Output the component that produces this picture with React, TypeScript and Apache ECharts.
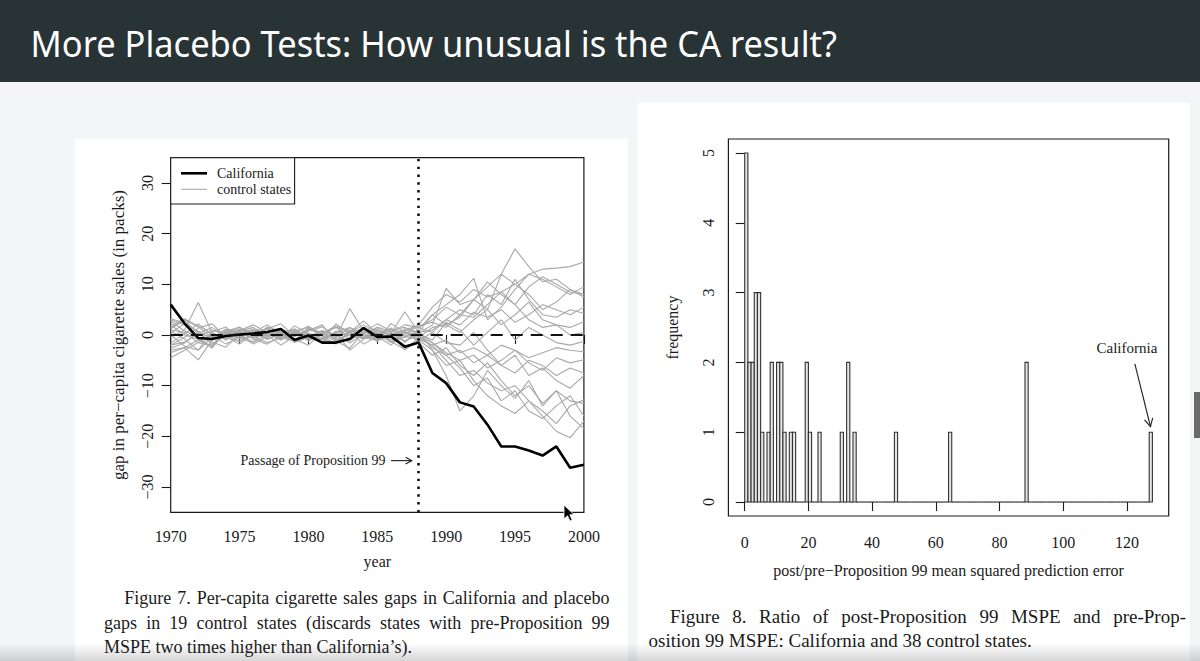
import React, { useEffect, useRef } from 'react';
import * as echarts from 'echarts';

// ---------------- DATA ----------------
const years = [1970, 1971, 1972, 1973, 1974, 1975, 1976, 1977, 1978, 1979, 1980, 1981, 1982, 1983, 1984, 1985,
  1986, 1987, 1988, 1989, 1990, 1991, 1992, 1993, 1994, 1995, 1996, 1997, 1998, 1999, 2000];

const california = [6.0, 2.3, -0.6, -0.8, -0.2, 0.1, 0.3, 0.6, 1.2, -1.0, -0.1, -1.5, -1.5, -0.8, 1.4, -0.4,
  -0.3, -2.3, -1.5, -7.5, -9.5, -13.3, -14.1, -17.7, -22.0, -22.0, -22.8, -23.8, -22.0, -26.2, -25.6];

const ctrl01 = [3.2, 2.4, 0.5, -1.8, 0.4, 1.6, -0.8, 1.2, 2.2, -0.3, 0.9, 2.0, -1.2, 0.5, 2.8, 0.3, -1.5, 1.2, 1.5, 3.0, 5.5, 4.0, 7.0, 9.5, 12.0, 17.0, 13.5, 10.5, 11.0, 9.0, 8.0];
const ctrl02 = [1.5, 3.0, 1.6, -0.5, 0.2, -1.4, 0.5, 2.0, 0.3, -1.0, 1.4, 0.2, 1.6, -0.9, 0.6, 2.2, 0.8, 0.2, 1.8, 2.5, 1.5, 4.0, 3.5, 6.0, 8.5, 10.0, 12.0, 13.0, 13.2, 13.5, 14.4];
const ctrl03 = [-0.5, 1.0, 6.4, 0.5, -1.0, 0.8, 1.5, -0.2, 0.5, 1.0, -0.8, 0.4, 1.8, 0.6, -0.5, 0.2, 1.0, 1.5, 0.5, 4.0, 6.0, 8.0, 11.2, 3.0, 5.5, 9.0, 12.0, 11.0, 9.5, 8.0, 9.5];
const ctrl04 = [3.0, 2.0, 0.8, -0.8, 1.2, 0.5, -0.5, 0.3, -1.0, 0.8, 1.5, 0.2, -0.6, 5.2, 0.8, -0.5, 1.2, 0.5, 0.3, 2.0, 9.2, 6.0, 7.0, 5.0, 12.0, 10.0, 8.0, 5.0, 6.5, 9.0, 7.5];
const ctrl05 = [1.0, 0.5, -1.5, -2.0, 0.0, 1.0, 0.5, -0.8, 0.2, 1.2, -0.5, -1.0, 0.5, 1.0, -0.2, -1.2, 0.4, 4.6, 0.5, 1.0, 3.0, 5.0, 4.0, 8.0, 6.0, 11.0, 7.0, 4.0, 3.5, 5.0, 4.3];
const ctrl06 = [-2.0, -0.5, 1.4, 2.2, -0.3, -1.8, 0.2, 1.4, -0.9, 0.3, 1.8, -0.2, -1.8, 0.5, 2.0, 0.5, -1.0, 0.0, -0.5, 1.5, 2.0, 0.5, 3.0, 5.0, 2.0, 4.0, 6.5, 3.0, 2.0, 1.5, 2.6];
const ctrl07 = [-2.6, -1.6, 0.5, -1.4, -2.4, 0.2, 1.2, -0.9, 0.4, -0.8, -2.0, 0.6, 0.2, -1.6, 0.3, 1.5, -0.2, -1.2, 0.2, -1.0, 2.5, 1.0, -2.0, 0.5, 3.0, -1.0, 1.5, 0.0, -1.5, -2.0, -1.3];
const ctrl08 = [-4.5, -3.0, -1.5, 0.3, -0.5, -1.2, 0.0, 0.5, -0.3, -1.0, 0.2, -0.5, 0.3, -3.0, -0.8, 0.0, 0.5, -1.2, 0.0, -2.5, -4.0, -3.0, -5.5, -4.0, -6.0, -7.5, -5.0, -6.0, -8.0, -6.5, -7.5];
const ctrl09 = [-3.5, -2.5, -4.9, -1.0, 0.5, -0.5, -1.5, 0.2, -0.8, 0.5, -0.3, -1.5, 0.8, -0.2, -0.6, -1.0, 0.5, -3.0, -0.5, -2.0, -5.0, -8.0, -7.0, -9.5, -11.0, -10.0, -13.0, -15.0, -17.5, -14.0, -12.8];
const ctrl10 = [0.5, 2.2, -0.5, -2.6, 0.9, 0.0, -1.4, 1.6, 0.4, -1.2, 0.8, 1.6, -0.4, 1.4, 0.0, -1.0, 2.3, 0.5, -1.0, -3.0, -6.0, -5.0, -9.0, -12.0, -14.0, -15.5, -13.0, -16.0, -19.0, -20.3, -17.0];
const ctrl11 = [2.0, 0.0, -0.8, -2.5, 0.8, 1.5, 0.2, -0.5, 1.0, 0.5, -1.0, 0.2, 1.5, 0.8, 0.3, -0.8, 0.2, 1.0, 0.5, -1.5, -4.0, -6.5, -10.0, -8.5, -13.0, -11.0, -15.0, -16.5, -14.0, -12.0, -16.0];
const ctrl12 = [1.2, 3.0, 0.2, -0.3, -0.8, 0.5, 1.0, 0.3, -0.4, 0.8, 0.0, -0.8, 0.6, 1.5, 0.5, 0.2, -0.2, 0.8, 2.0, 5.5, 8.0, 6.5, 9.0, 7.5, 8.5, 6.0, 9.5, 11.5, 10.0, 8.5, 8.0];
const ctrl13 = [-1.6, 0.2, 2.2, 0.0, -1.8, -0.5, 0.8, 0.0, -2.0, -0.2, 1.2, 0.0, -1.2, -2.6, 0.5, 1.2, -1.5, -0.3, -0.8, -2.0, -1.0, -3.5, -2.5, -4.0, -2.0, -3.0, -4.5, -3.5, -2.5, -3.0, -3.3];
const ctrl14 = [0.0, -2.2, -3.0, -0.5, 0.9, -0.2, -1.8, -0.3, 1.0, -1.5, -0.5, 0.9, -0.2, 0.6, -1.8, -0.3, -2.0, 0.6, -0.3, -1.5, -3.5, -5.0, -4.0, -6.5, -5.0, -3.0, -5.5, -7.0, -4.5, -5.5, -4.9];
const ctrl15 = [2.8, 0.8, -0.2, 1.0, 0.0, -0.6, 0.6, -0.2, 0.8, 0.2, -0.3, 0.8, 0.0, 0.5, -0.5, 1.0, 0.0, -0.5, 0.8, -3.0, -8.0, -15.0, -12.0, -7.0, -10.0, -12.5, -9.0, -14.0, -11.0, -13.0, -13.5];
const ctrl16 = [-2.0, -1.4, 0.3, 1.5, -0.2, 0.8, -0.8, -1.8, -0.2, 1.2, -1.2, 0.4, -0.9, 0.0, 1.5, -1.2, 0.0, 0.8, -1.5, -4.0, -2.5, -6.0, -8.0, -5.5, -9.0, -12.0, -10.0, -13.5, -11.0, -16.0, -18.5];
const ctrl17 = [1.8, 3.2, 1.8, 0.3, -0.6, 0.9, 2.0, 0.5, -0.5, 1.8, 0.2, -0.9, 2.2, 0.2, -0.8, 1.6, 0.6, 2.0, 1.5, 0.5, 3.0, 2.0, 4.5, 3.5, 5.0, 2.5, 4.0, 6.0, 5.0, 4.0, 5.5];
const ctrl18 = [-3.0, -2.5, -1.0, -2.2, 0.3, 1.2, -0.2, -1.5, -0.6, -1.2, 0.4, -0.9, -1.6, 0.6, -0.8, 0.9, -1.3, -2.8, -1.2, 0.5, -1.5, -2.0, 0.5, -3.0, -6.0, -4.0, -8.0, -6.5, -9.0, -10.5, -8.0];
const ctrl19 = [0.8, -0.8, -3.0, 0.6, 1.6, -0.8, -0.2, 1.2, 0.2, -1.3, 1.4, 0.5, -0.6, -1.2, 1.2, 0.2, 1.4, -1.5, 1.2, 4.0, 2.0, 3.5, 7.0, 10.5, 8.0, 6.0, 3.0, 1.5, 2.0, 0.0, 0.5];

const controls = [ctrl01, ctrl02, ctrl03, ctrl04, ctrl05, ctrl06, ctrl07, ctrl08, ctrl09, ctrl10,
  ctrl11, ctrl12, ctrl13, ctrl14, ctrl15, ctrl16, ctrl17, ctrl18, ctrl19];

const gapTicks = [-30, -20, -10, 0, 10, 20, 30];
const treatmentYear = 1988;

// histogram: bins of width 1 starting at histBinStart, counts in histCount (other bins 0)
const histBinStart = [0, 1, 2, 3, 4, 5, 7, 8, 10, 11, 12, 14, 15, 19, 20, 23, 30, 32, 34, 47, 64, 88, 127];
const histCount = [5, 2, 2, 3, 3, 1, 1, 2, 2, 2, 1, 1, 1, 2, 1, 1, 1, 2, 1, 1, 1, 2, 1];
const histMaxBin = 128;
const histXTicks = [0, 20, 40, 60, 80, 100, 120];
const histYTicks = [0, 1, 2, 3, 4, 5];

const titleText = 'More Placebo Tests: How unusual is the CA result?';
const fig7Lines = [
  'Figure 7.  Per-capita cigarette sales gaps in California and placebo',
  'gaps in 19 control states (discards states with pre-Proposition 99',
  'MSPE two times higher than California\u2019s).',
];
const fig8Lines = [
  'Figure 8. Ratio of post-Proposition 99 MSPE and pre-Prop-',
  'osition 99 MSPE: California and 38 control states.',
];

// ---------------- HELPERS ----------------
const SERIF = '"Liberation Serif", "Times New Roman", serif';
const INK = '#1a1a1a';

let measureCtx: CanvasRenderingContext2D | null = null;
function measure(text: string, font: string): number {
  if (!measureCtx) measureCtx = document.createElement('canvas').getContext('2d');
  measureCtx!.font = font;
  return measureCtx!.measureText(text).width;
}

function textLine(text: string, x0: number, x1: number | null, y: number, font: string): any[] {
  if (x1 === null) {
    return [{ type: 'text', x: x0, y, z: 10, style: { text, font, fill: INK, align: 'left', verticalAlign: 'middle' } }];
  }
  const words = text.split(/\s+/);
  const widths = words.map((w) => measure(w, font));
  const total = widths.reduce((a, b) => a + b, 0);
  const gap = (x1 - x0 - total) / (words.length - 1);
  const els: any[] = [];
  let x = x0;
  words.forEach((w, i) => {
    els.push({ type: 'text', x, y, z: 10, style: { text: w, font, fill: INK, align: 'left', verticalAlign: 'middle' } });
    x += widths[i] + gap;
  });
  return els;
}

function arrow(p0: number[], p1: number[], head: number, width: number): any[] {
  const dx = p1[0] - p0[0];
  const dy = p1[1] - p0[1];
  const len = Math.sqrt(dx * dx + dy * dy);
  const ux = dx / len, uy = dy / len;
  const ang = (28 * Math.PI) / 180;
  const c = Math.cos(ang), s = Math.sin(ang);
  const b1 = [p1[0] - head * (ux * c - uy * s), p1[1] - head * (uy * c + ux * s)];
  const b2 = [p1[0] - head * (ux * c + uy * s), p1[1] - head * (uy * c - ux * s)];
  return [
    { type: 'line', z: 10, shape: { x1: p0[0], y1: p0[1], x2: p1[0], y2: p1[1] }, style: { stroke: INK, lineWidth: width } },
    { type: 'polyline', z: 10, shape: { points: [b1, p1, b2] }, style: { stroke: INK, lineWidth: width, fill: null } },
  ];
}

const minusFmt = (v: number) => String(v).replace('-', '\u2212');
const plainFmt = (v: number) => String(v);

export default function App() {
  const ref = useRef<HTMLDivElement>(null);

  useEffect(() => {
    if (!ref.current) return;
    const chart = echarts.init(ref.current, null, { renderer: 'svg' });

    const histData: number[][] = [];
    for (let b = 0; b < histMaxBin; b++) {
      const k = histBinStart.indexOf(b);
      histData.push([b, k >= 0 ? histCount[k] : 0]);
    }

    const labelStyle = { fontFamily: SERIF, fontSize: 16, color: INK };
    const tickStyle = { show: true, length: 9, lineStyle: { color: INK, width: 1.1 } };

    const series: any[] = controls.map((arr, idx) => ({
      name: 'control states',
      id: 'ctrl' + idx,
      type: 'line',
      xAxisIndex: 0,
      yAxisIndex: 0,
      data: years.map((yr, i) => [yr, arr[i]]),
      symbol: 'none',
      silent: true,
      z: 2,
      lineStyle: { color: '#a9a9a9', width: 1.1 },
    }));
    series.push({
      name: 'California',
      type: 'line',
      xAxisIndex: 0,
      yAxisIndex: 0,
      data: years.map((yr, i) => [yr, california[i]]),
      symbol: 'none',
      silent: true,
      z: 4,
      lineStyle: { color: '#000', width: 2.6 },
      markLine: {
        symbol: 'none',
        silent: true,
        label: { show: false },
        data: [
          { xAxis: treatmentYear, lineStyle: { color: '#111', width: 2.6, type: [2.4, 5.4] } },
          { yAxis: 0, lineStyle: { color: '#111', width: 2.2, type: [12, 8] } },
        ],
      },
    });
    series.push({
      type: 'custom',
      xAxisIndex: 1,
      yAxisIndex: 1,
      silent: true,
      data: histData,
      encode: { x: 0, y: 1 },
      renderItem: (params: any, api: any) => {
        const s = api.value(0);
        const c = api.value(1);
        const p0 = api.coord([s, c]);
        const p1 = api.coord([s + 1, 0]);
        if (c === 0) {
          return { type: 'line', shape: { x1: p0[0], y1: p1[1], x2: p1[0], y2: p1[1] }, style: { stroke: '#333', lineWidth: 1.2 } };
        }
        return {
          type: 'rect',
          shape: { x: p0[0], y: p0[1], width: p1[0] - p0[0], height: p1[1] - p0[1] },
          style: { fill: '#e6e6e6', stroke: '#333', lineWidth: 1.1 },
        };
      },
    });

    chart.setOption({
      animation: false,
      backgroundColor: '#f4f5f6',
      grid: [
        { left: 170.7, right: 1200 - 583.9, top: 157.7, bottom: 661 - 512.3, show: true, borderColor: INK, borderWidth: 1.2, backgroundColor: 'transparent', containLabel: false, outerBoundsMode: 'none' },
        { left: 728.4, right: 1200 - 1168.7, top: 139, bottom: 661 - 516, show: true, borderColor: INK, borderWidth: 1.2, backgroundColor: 'transparent', containLabel: false, outerBoundsMode: 'none' },
      ],
      xAxis: [
        {
          type: 'value', gridIndex: 0, min: 1970, max: 2000, interval: 5,
          axisLine: { show: false }, splitLine: { show: false }, axisTick: tickStyle,
          axisLabel: { ...labelStyle, margin: 16, formatter: plainFmt, showMinLabel: true, showMaxLabel: true, hideOverlap: false },
          name: 'year', nameLocation: 'middle', nameGap: 41, nameTextStyle: { fontFamily: SERIF, fontSize: 16, color: INK },
        },
        {
          type: 'value', gridIndex: 1, min: -5.12, max: 133.12,
          axisLine: { show: false }, splitLine: { show: false },
          axisTick: { ...tickStyle, customValues: histXTicks },
          axisLabel: { ...labelStyle, margin: 18, formatter: plainFmt, customValues: histXTicks, hideOverlap: false },
          name: 'post/pre\u2212Proposition 99 mean squared prediction error', nameLocation: 'middle', nameGap: 46,
          nameTextStyle: { fontFamily: SERIF, fontSize: 16, color: INK },
        },
      ],
      yAxis: [
        {
          type: 'value', gridIndex: 0, min: -35, max: 35,
          axisLine: { show: false }, splitLine: { show: false },
          axisTick: { ...tickStyle, customValues: gapTicks },
          axisLabel: { ...labelStyle, margin: 15, rotate: 90, customValues: gapTicks, formatter: minusFmt, hideOverlap: false },
          name: 'gap in per\u2212capita cigarette sales (in packs)', nameLocation: 'middle', nameGap: 44, nameRotate: 90,
          nameTextStyle: { fontFamily: SERIF, fontSize: 17, color: INK },
        },
        {
          type: 'value', gridIndex: 1, min: -0.2, max: 5.2,
          axisLine: { show: false }, splitLine: { show: false },
          axisTick: { ...tickStyle, customValues: histYTicks },
          axisLabel: { ...labelStyle, margin: 12, rotate: 90, customValues: histYTicks, hideOverlap: false },
          name: 'frequency', nameLocation: 'middle', nameGap: 48, nameRotate: 90,
          nameTextStyle: { fontFamily: SERIF, fontSize: 16, color: INK },
        },
      ],
      series,
    });

    // ------- graphic: slide, captions, legend, annotations -------
    const g: any[] = [];
    g.push({ type: 'rect', z: -100, shape: { x: 0, y: 0, width: 1200, height: 82 }, style: { fill: '#283336' } });
    g.push({ type: 'rect', z: -100, shape: { x: 75, y: 139, width: 553, height: 530 }, style: { fill: '#ffffff' } });
    g.push({ type: 'rect', z: -100, shape: { x: 637, y: 103, width: 553, height: 566 }, style: { fill: '#ffffff' } });
    g.push({ type: 'rect', z: -100, shape: { x: 1194, y: 392, width: 6, height: 46 }, style: { fill: '#6a6a6a' } });
    g.push({
      type: 'rect', z: 20, shape: { x: 0, y: 643, width: 1200, height: 18 },
      style: {
        fill: new echarts.graphic.LinearGradient(0, 0, 0, 1, [
          { offset: 0, color: 'rgba(0,0,0,0)' },
          { offset: 1, color: 'rgba(0,0,0,0.16)' },
        ]),
      },
    });

    // title
    const titleFont = '36px "Noto Sans", "Open Sans", sans-serif';
    const tw = measure(titleText, titleFont);
    g.push({ type: 'text', z: 10, x: 30.6, y: 42.5, scaleX: 807 / tw, style: { text: titleText, font: titleFont, fill: '#ffffff', align: 'left', verticalAlign: 'middle' } });

    // captions
    const cap7Font = '18px ' + SERIF;
    const cap8Font = '19px ' + SERIF;
    g.push(...textLine(fig7Lines[0], 124.3, 609.6, 598, cap7Font));
    g.push(...textLine(fig7Lines[1], 104, 609.6, 622.5, cap7Font));
    g.push(...textLine(fig7Lines[2], 104, null, 647, cap7Font));
    g.push(...textLine(fig8Lines[0], 670, 1186, 616.5, cap8Font));
    g.push(...textLine(fig8Lines[1], 648.6, null, 640, cap8Font));

    // legend (left figure)
    g.push({ type: 'rect', z: 8, shape: { x: 170.7, y: 157.7, width: 123.9, height: 46.3 }, style: { fill: '#fff', stroke: INK, lineWidth: 1.1 } });
    g.push({ type: 'line', z: 9, shape: { x1: 181, y1: 173.3, x2: 207, y2: 173.3 }, style: { stroke: '#000', lineWidth: 2.6 } });
    g.push({ type: 'line', z: 9, shape: { x1: 181, y1: 189.3, x2: 207, y2: 189.3 }, style: { stroke: '#a9a9a9', lineWidth: 1.1 } });
    g.push({ type: 'text', z: 9, x: 217, y: 173.3, style: { text: 'California', font: '14px ' + SERIF, fill: INK, align: 'left', verticalAlign: 'middle' } });
    g.push({ type: 'text', z: 9, x: 217, y: 189.3, style: { text: 'control states', font: '14px ' + SERIF, fill: INK, align: 'left', verticalAlign: 'middle' } });

    // annotation: passage of Proposition 99
    const pt = chart.convertToPixel({ gridIndex: 0 } as any, [1985.6, -24.8]) as number[];
    const pa0 = chart.convertToPixel({ gridIndex: 0 } as any, [1986.0, -24.8]) as number[];
    const pa1 = chart.convertToPixel({ gridIndex: 0 } as any, [1987.5, -24.8]) as number[];
    g.push({ type: 'text', z: 10, x: pt[0], y: pt[1], style: { text: 'Passage of Proposition 99', font: '14px ' + SERIF, fill: INK, align: 'right', verticalAlign: 'middle' } });
    g.push(...arrow(pa0, pa1, 7, 1.1));

    // annotation: California on histogram
    const ct = chart.convertToPixel({ gridIndex: 1 } as any, [120, 2.2]) as number[];
    const ca0 = chart.convertToPixel({ gridIndex: 1 } as any, [122.5, 1.98]) as number[];
    const ca1 = chart.convertToPixel({ gridIndex: 1 } as any, [127.4, 1.08]) as number[];
    g.push({ type: 'text', z: 10, x: ct[0], y: ct[1], style: { text: 'California', font: '15px ' + SERIF, fill: INK, align: 'center', verticalAlign: 'middle' } });
    g.push(...arrow(ca0, ca1, 9, 1.1));

    // mouse pointer seen in the screenshot
    g.push({
      type: 'polygon', z: 30,
      shape: { points: [[564, 505], [564, 519], [567.5, 515.8], [570, 521], [572.2, 520], [569.8, 514.8], [574, 514.6]] },
      style: { fill: '#000', stroke: '#fff', lineWidth: 0.8 },
    });

    chart.setOption({ graphic: { elements: g } });

    return () => chart.dispose();
  }, []);

  return <div ref={ref} style={{ position: 'fixed', left: 0, top: 0, width: 1200, height: 661 }} />;
}
